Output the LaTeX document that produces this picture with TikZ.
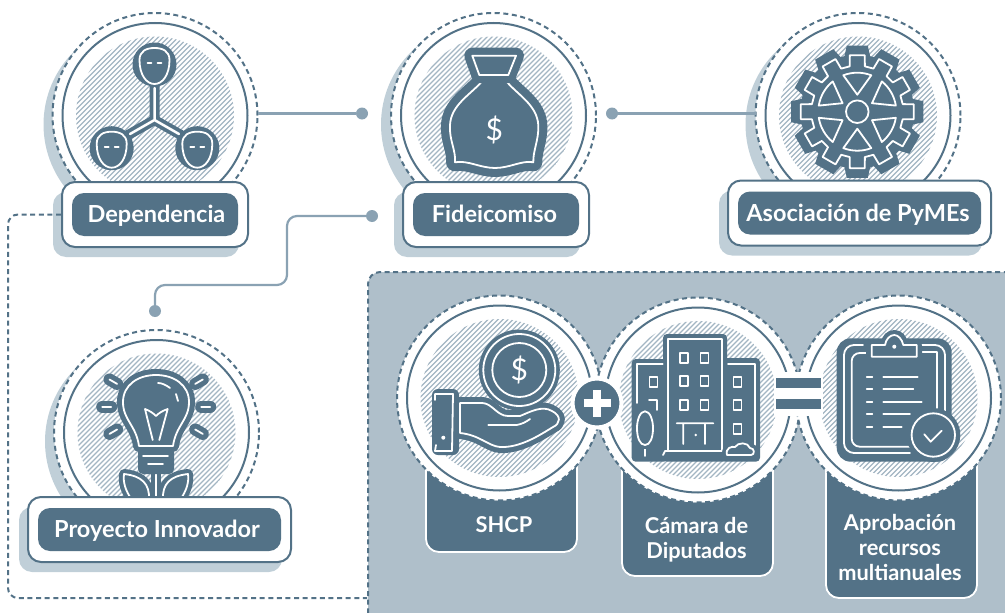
\documentclass[tikz,border=0pt]{standalone}
\usepackage{fontspec}
\setmainfont{Lato}
\definecolor{deepblue}{HTML}{537287}
\definecolor{midblue}{HTML}{8AA2B3}
\definecolor{paleblue}{HTML}{C0CFD8}
\definecolor{panelblue}{HTML}{AFBFCA}
\definecolor{hatchblue}{HTML}{A3B6C3}
\tikzset{
  ringshade/.style={fill=paleblue,circle,inner sep=0pt,outer sep=0pt,minimum size=205pt},
  ringdash/.style={fill=white,draw=deepblue,dash pattern=on 5pt off 3.6pt,line width=2pt,circle,inner sep=0pt,outer sep=0pt,minimum size=205pt},
  ringsolid/.style={draw=deepblue,line width=2pt,circle,inner sep=0pt,outer sep=0pt,minimum size=185pt},
  boxshade/.style={fill=paleblue,rounded corners=13pt,inner sep=0pt},
  boxplain/.style={fill=white,draw=deepblue,line width=2pt,rounded corners=13pt,inner sep=0pt},
  boxfill/.style={fill=deepblue,text=white,rounded corners=12pt,inner sep=0pt,text height=17pt,text depth=1pt,font=\fontsize{23.5}{26}\selectfont\bfseries},
  stepfill/.style={fill=deepblue,draw=white,line width=1.8pt,rounded corners=13pt,inner sep=0pt,minimum width=151pt},
  steptext/.style={text=white,align=center,inner sep=0pt,font=\fontsize{21.8}{25}\selectfont\bfseries},
  linkdot/.style={fill=midblue,circle,inner sep=0pt,minimum size=12pt},
  link/.style={draw=midblue,line width=2.2pt,rounded corners=10pt},
  linkdash/.style={draw=deepblue,line width=2pt,dash pattern=on 5pt off 3.6pt,rounded corners=10pt},
  iconshape/.style={fill=deepblue,draw=white,line width=1.8pt,line join=round,line cap=round,preaction={draw=deepblue,line width=#1,line join=round}},
  iconline/.style={draw=white,line width=1.8pt,line join=round,line cap=round},
  iconbar/.style={draw=deepblue,line width=#1,line cap=round}
}
\newcommand{\badge}[5]{
    \node (#1shade) at (#2+#4,#3+#5) [ringshade] {};
    \node (#1dash) at (#2,#3) [ringdash] {};
    \begin{scope}
      \clip (#2,#3) circle (79);
      \foreach \d in {-160,-155,...,160}
        \draw[hatchblue,line width=1.1pt] (#2+\d-90,#3+90) -- (#2+\d+90,#3-90);
    \end{scope}
    \node (#1ring) at (#2,#3) [ringsolid] {};
}
\newcommand{\plate}[5]{
    \node (#1shade) at (#2-9,#3+10) [boxshade,minimum width=#4 pt,minimum height=65pt] {};
    \node (#1box) at (#2,#3) [boxplain,minimum width=#4 pt,minimum height=65pt] {};
    \node (#1label) at (#2,#3) [boxfill,minimum width=#4 pt-20pt,minimum height=43pt] {#5};
}
\newcommand{\headicon}[2]{
    \begin{scope}[shift={(#1,#2)}]
      \fill[deepblue] (0,1.5) circle (22);
      \draw[iconshape=2pt] (-15,-3) .. controls (-15,-12) and (-8,-15) .. (0,-15) .. controls (8,-15) and (15,-12) .. (15,-3) .. controls (15,12) and (8,21) .. (0,21) .. controls (-8,21) and (-15,12) .. (-15,-3) -- cycle;
      \draw[iconline] (-7,0) -- (-3,0) (3,0) -- (7,0);
    \end{scope}
}
\newcommand{\gearpath}[4]{(-#4:#2) \foreach \a in {0,30,...,330} { -- (\a-#4:#2) -- (\a-#3:#1) -- (\a+#3:#1) -- (\a+#4:#2) } -- cycle}

\begin{document}
\begin{tikzpicture}[x=1pt,y=-1pt]
    \useasboundingbox (0,0) rectangle (1005,613);

    \node (panel) at (703,460) [fill=panelblue,draw=deepblue,line width=2pt,dash pattern=on 5pt off 3.6pt,rounded corners=12pt,minimum width=670pt,minimum height=376pt,inner sep=0pt] {};

    \badge{dep}{155}{115.5}{-9}{9}
    \draw[iconbar=10pt] (154.5,85) -- (154.5,120) -- (128,135) (154.5,120) -- (181,135);
    \draw[iconline,line width=2.5pt] (154.5,88) -- (154.5,120) -- (130,134) (154.5,120) -- (179,134);
    \headicon{154.5}{63}
    \headicon{111.7}{146.7}
    \headicon{197.3}{146.7}
    \plate{dep}{155}{214.5}{186}{\hspace*{3pt}Dependencia}

    \badge{fid}{493.5}{115.5}{-10}{9}
    \draw[iconshape=18pt] (481.7,81.7) -- (506.7,81.7) .. controls (518,95) and (537,105) .. (538.3,125) .. controls (539,140) and (533,150) .. (533.3,162.3) .. controls (522,160) and (510,168) .. (495,168) .. controls (480,168) and (468,160) .. (455,162.3) .. controls (456,150) and (449,140) .. (450,125) .. controls (451,105) and (470,95) .. (481.7,81.7) -- cycle;
    \draw[iconshape=16pt] (472.3,55.7) -- (516,55.7) -- (508.3,75) -- (479.3,75) -- cycle;
    \node (fidcoin) at (494.3,130) [text=white,inner sep=0pt,font=\fontsize{30}{30}\selectfont] {\$};
    \plate{fid}{496}{214.5}{186}{Fideicomiso\hspace*{3pt}}

    \badge{aso}{858}{115.5}{-10}{9}
    \begin{scope}[shift={(857.3,111.7)}]
      \fill[deepblue] \gearpath{67}{57}{9}{13};
      \draw[iconline] \gearpath{57}{46}{7.5}{9.5};
      \foreach \a in {0,60,...,300}
        \draw[iconline] (\a+9:39) arc[start angle=\a+9,end angle=\a+51,radius=39] -- (\a+30:17) -- cycle;
      \draw[iconline] (0,0) circle (11.3);
    \end{scope}
    \plate{aso}{859.5}{213}{263}{Asociación de PyMEs\hspace*{3pt}}

    \badge{pro}{156.5}{432.5}{-9}{9}
    \foreach \x/\y/\dx/\dy in {113.3/381.7/3.8/2.2,106.7/406.7/4.5/0,113.3/431.7/3.8/-2.2,199/381.7/3.8/-2.2,205.7/406.7/4.5/0,199/431.7/3.8/2.2}{
      \draw[iconbar=12pt] (\x-\dx,\y-\dy) -- (\x+\dx,\y+\dy);
      \draw[iconline] (\x-\dx,\y-\dy) -- (\x+\dx,\y+\dy);
    }
    \draw[iconbar=10pt] (156,470) -- (156,500);
    \draw[iconline] (156,470) -- (156,500);
    \draw[iconshape=10pt] (124,474) .. controls (142,476) and (150,484) .. (149,500) -- (132,500) .. controls (125,490) and (123,482) .. (124,474) -- cycle;
    \draw[iconshape=10pt] (188,474) .. controls (170,476) and (162,484) .. (163,500) -- (180,500) .. controls (187,490) and (189,482) .. (188,474) -- cycle;
    \fill[deepblue,rounded corners=5pt] (138,445) rectangle (174,474);
    \draw[iconline] (143,455.7) -- (168,455.7) (148,464) -- (163,464);
    \draw[iconshape=12pt] (139,446) .. controls (136,425) and (123,420) .. (123,402) .. controls (123,385) and (138,375) .. (156,375) .. controls (174,375) and (189,385) .. (189,402) .. controls (189,420) and (176,425) .. (173,446) -- cycle;
    \draw[iconline] (152.7,440) -- (145,409) .. controls (150,411) and (153,413) .. (156,416) .. controls (159,413) and (162,411) .. (167.7,409) -- (159.3,440);
    \draw[iconline] (158,383) .. controls (162,383) and (166,385) .. (170,388) (176,394) -- (178,401);
    \plate{pro}{159.5}{529.5}{263}{Proyecto Innovador\hspace*{5pt}}

    \node (shcpbox) at (501.5,490) [stepfill,minimum height=124pt] {};
    \node (cambox) at (697.5,502) [stepfill,minimum height=148pt] {};
    \node (aprbox) at (901.5,513) [stepfill,minimum height=170pt] {};
    \node (shcplabel) at (504,525) [steptext] {SHCP};
    \node (camlabel) at (696.5,539.5) [steptext] {Cámara de\\Diputados};
    \node (aprlabel) at (900,547) [steptext] {Aprobación\\recursos\\multianuales};

    \badge{shcp}{499.5}{398}{0}{0}
    \fill[deepblue,rounded corners=6pt] (432,389) rectangle (459,455);
    \draw[iconline] (435,400) -- (435,394) -- (453,394) -- (452,451) -- (435,451) -- (436,445);
    \fill[white] (443.3,437.7) circle (2);
    \draw[iconshape=12pt] (460,403) -- (482,403) .. controls (492,403) and (497,416) .. (508,416) -- (520,416) .. controls (530,412) and (542,405) .. (552,411) .. controls (562,416) and (560,424) .. (553,427) .. controls (540,435) and (520,448) .. (500,447) .. controls (488,446) and (480,435) .. (460,433) -- cycle;
    \draw[iconline] (488.3,425) -- (516.7,425) .. controls (522,424) and (526,422) .. (530,419);
    \fill[deepblue] (519.3,370) circle (40.5);
    \draw[iconline] (519.3,370) circle (36) (519.3,370) circle (27);
    \node (shcpcoin) at (519.3,370) [text=white,inner sep=0pt,font=\fontsize{30}{30}\selectfont] {\$};

    \badge{cam}{698}{400}{0}{0}
    \fill[deepblue,rounded corners=4pt] (631.7,359) rectangle (668,461.7);
    \fill[deepblue,rounded corners=4pt] (721,358) rectangle (760,461.7);
    \fill[deepblue,rounded corners=4pt] (663,334) rectangle (727,461.7);
    \draw[iconline] (636.7,403) -- (636.7,364) -- (662.7,364);
    \draw[iconline] (728,364) -- (755,364) -- (755,445);
    \draw[iconline] (668.3,451) -- (668.3,339.3) -- (721.7,339.3) -- (721.7,451);
    \foreach \x/\y in {684/357.7,704.3/357.7,684/380.7,704.3/380.7,684/405,704.3/405,737.3/381.7,737.3/405,737.3/429,653.3/381.7}
      \draw[iconline,line width=1.6pt] (\x-4,\y-5) rectangle (\x+4,\y+5);
    \draw[iconline] (649,400) -- (657,400) -- (657,410);
    \draw[iconline] (663,455) -- (665,451) -- (721.7,451) (676.7,423.3) -- (713.3,423.3) (683.3,423.3) -- (683.3,444) (705,423.3) -- (705,444);
    \fill[white] (695.7,435) circle (1.4);
    \draw[iconshape=9pt] (727,455) .. controls (725,448) and (732,446) .. (735,447) .. controls (738,442) and (748,442) .. (750,448) .. controls (755,448) and (755,455) .. (751,455) -- cycle;
    \draw[iconbar=9pt] (645,445) -- (645,456);
    \draw[iconline] (645,445) -- (645,456);
    \draw[iconshape=8pt] (645,411.3) .. controls (650,411.3) and (653,420) .. (653,428) .. controls (653,438) and (650,445) .. (645,445) .. controls (640,445) and (637,438) .. (637,428) .. controls (637,420) and (640,411.3) .. (645,411.3) -- cycle;

    \badge{apr}{898.5}{398}{0}{0}
    \fill[deepblue,rounded corners=14pt] (836.7,338.3) rectangle (951.7,461.7);
    \draw[iconline,rounded corners=10pt] (863,345) -- (844,345) -- (844,453) -- (910,453);
    \draw[iconline,rounded corners=8pt] (867,353) -- (851.7,353) -- (851.7,446.7) -- (910,446.7);
    \draw[iconline,rounded corners=10pt] (916.7,345) -- (945,345) -- (945,413);
    \draw[iconline] (921,352.3) -- (936.7,352.3) -- (936.7,413);
    \fill[deepblue,rounded corners=6pt] (866,340) rectangle (922,362);
    \fill[deepblue] (894.3,343) circle (13);
    \draw[iconline] (885,345) .. controls (886,339) and (890,335) .. (894.3,335) .. controls (898,335) and (902,339) .. (903.3,345) -- (916.7,345) -- (916.7,356.7) -- (871.7,356.7) -- (871.7,345) -- cycle;
    \fill[white] (894.3,346.7) circle (2);
    \foreach \y/\e in {377.3/917.7,389.3/913.3,401.7/921.7,414.3/910,426.7/901.7}
      \draw[iconline] (866.7,\y) -- (872.3,\y) (883.3,\y) -- (\e,\y);
    \fill[deepblue] (933.3,435) circle (27);
    \draw[iconline] (933.3,435) circle (21.7);
    \draw[iconline] (924.3,434.3) -- (930.7,441.7) -- (941.7,430.7);

    \node (plusback) at (597,403) [fill=deepblue,draw=white,line width=4pt,circle,inner sep=0pt,minimum size=49pt] {};
    \draw[white,line width=8pt] (583.5,403) -- (610.5,403) (597,389.5) -- (597,416.5);
    \node (eqback) at (798.5,393.5) [fill=white,inner sep=0pt,minimum width=49pt,minimum height=44pt] {};
    \node (eqtop) at (798.5,383) [fill=deepblue,inner sep=0pt,minimum width=45pt,minimum height=10pt] {};
    \node (eqbottom) at (798.5,404) [fill=deepblue,inner sep=0pt,minimum width=45pt,minimum height=10pt] {};

    \node (dota) at (362,113.5) [linkdot] {};
    \node (dotb) at (612,113.5) [linkdot] {};
    \node (dotc) at (372,216) [linkdot] {};
    \node (dotd) at (155,311) [linkdot] {};
    \coordinate (benda) at (287,285);
    \coordinate (bendb) at (8,598);
    \draw[link] (depdash.east |- dota) to (dota);
    \draw[link] (dotb) to (asodash.west |- dotb);
    \draw[link] (dotc) -| (benda) -| (dotd);
    \draw[linkdash] (depbox.west) -| (bendb) -- (bendb -| panel.west);
\end{tikzpicture}
\end{document}
